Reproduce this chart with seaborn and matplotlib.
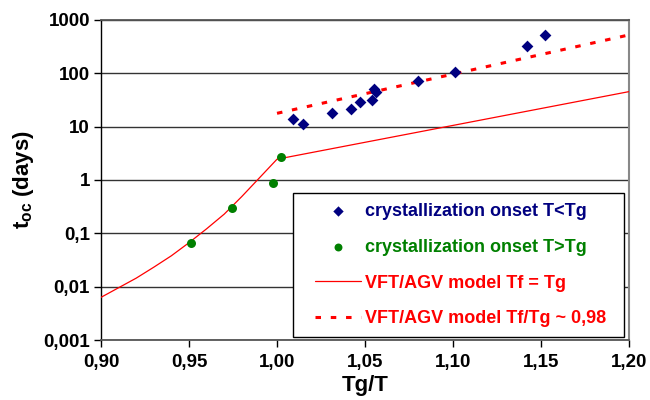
import matplotlib
matplotlib.use("Agg")
import matplotlib.pyplot as plt
import seaborn as sns
from matplotlib.patches import Rectangle
from matplotlib.ticker import FixedLocator, FixedFormatter, NullLocator

# ---------------- data ----------------
below_tg_x = [1.009, 1.015, 1.031, 1.042, 1.047, 1.054, 1.0553, 1.0561, 1.080, 1.101, 1.142, 1.152]
below_tg_y = [13.9, 11.2, 17.8, 21.5, 29.0, 32.0, 50.0, 45.0, 71.0, 106.0, 331.0, 525.0]

above_tg_x = [0.951, 0.9745, 0.998, 1.0025]
above_tg_y = [0.065, 0.30, 0.89, 2.75]

vft_x = [0.900, 0.910, 0.920, 0.930, 0.940, 0.950, 0.960, 0.970, 0.980, 0.990, 1.000, 1.200]
vft_y = [0.00631, 0.00955, 0.01445, 0.0232, 0.0380, 0.0668, 0.1216, 0.229, 0.490, 1.096, 2.455, 45.4]

vft098_x = [1.000, 1.200]
vft098_y = [17.8, 525.0]

labels = ["crystallization onset T<Tg", "crystallization onset T>Tg",
          "VFT/AGV model Tf = Tg", "VFT/AGV model Tf/Tg ~ 0,98"]

x_ticks = [0.90, 0.95, 1.00, 1.05, 1.10, 1.15, 1.20]
x_tick_labels = ["0,90", "0,95", "1,00", "1,05", "1,10", "1,15", "1,20"]
y_ticks = [0.001, 0.01, 0.1, 1, 10, 100, 1000]
y_tick_labels = ["0,001", "0,01", "0,1", "1", "10", "100", "1000"]

# ---------------- style ----------------
sns.set_theme(style="white")
plt.rcParams['font.family'] = ['Liberation Sans', 'DejaVu Sans']
plt.rcParams['font.weight'] = 'bold'
plt.rcParams['mathtext.fontset'] = 'custom'
plt.rcParams['mathtext.rm'] = 'Liberation Sans:bold'
plt.rcParams['mathtext.it'] = 'Liberation Sans:bold'
plt.rcParams['mathtext.bf'] = 'Liberation Sans:bold'
plt.rcParams['mathtext.default'] = 'bf'

NAVY = '#000080'
GREEN = '#008000'
RED = '#FF0000'

fig = plt.figure(figsize=(6.5, 4), dpi=100)
ax = fig.add_axes([0.1554, 0.15, 0.8123, 0.80])
ax.set_yscale('log')

sns.scatterplot(x=below_tg_x, y=below_tg_y, ax=ax, marker='D', s=36, color=NAVY,
                edgecolor=NAVY, linewidth=0, label=labels[0], zorder=4)
sns.scatterplot(x=above_tg_x, y=above_tg_y, ax=ax, marker='o', s=42, color=GREEN,
                edgecolor=GREEN, linewidth=0, label=labels[1], zorder=4)
sns.lineplot(x=vft_x, y=vft_y, ax=ax, color=RED, linewidth=0.9, label=labels[2],
             estimator=None, sort=False, zorder=3)
sns.lineplot(x=vft098_x, y=vft098_y, ax=ax, color=RED, linewidth=2.2,
             linestyle=(0, (1.8, 3.2)), label=labels[3], estimator=None, sort=False, zorder=3)

ax.set_xlim(0.90, 1.20)
ax.set_ylim(0.001, 1000)

ax.xaxis.set_major_locator(FixedLocator(x_ticks))
ax.xaxis.set_major_formatter(FixedFormatter(x_tick_labels))
ax.yaxis.set_major_locator(FixedLocator(y_ticks))
ax.yaxis.set_major_formatter(FixedFormatter(y_tick_labels))
ax.yaxis.set_minor_locator(NullLocator())
ax.xaxis.set_minor_locator(NullLocator())

ax.yaxis.grid(True, color='#333333', linewidth=1.0)
ax.xaxis.grid(False)
ax.set_axisbelow(True)

ax.tick_params(axis='both', which='major', direction='out', length=5, width=1,
               color='black', left=True, bottom=True, labelsize=13.5)
ax.tick_params(axis='x', pad=5)
ax.tick_params(axis='y', pad=3)
for lab in ax.get_xticklabels() + ax.get_yticklabels():
    lab.set_fontweight('bold')
    lab.set_color('black')

ax.spines['left'].set_color('black')
ax.spines['left'].set_linewidth(1.0)
ax.spines['bottom'].set_color('#555555')
ax.spines['bottom'].set_linewidth(1.3)
ax.spines['top'].set_color('#555555')
ax.spines['top'].set_linewidth(1.3)
ax.spines['right'].set_color('#888888')
ax.spines['right'].set_linewidth(1.5)

ax.set_xlabel("Tg/T", fontsize=16, fontweight='bold', color='black', labelpad=3)
ax.set_ylabel("t$_{oc}$ (days)", fontsize=16, fontweight='bold', color='black', labelpad=5)

# legend box (white, black edge) drawn behind the legend entries
box = Rectangle((0.3636, 0.0094), 0.6269, 0.45, transform=ax.transAxes,
                facecolor='white', edgecolor='black', linewidth=1.0, zorder=4.5)
ax.add_patch(box)

leg = ax.legend(loc='lower left', bbox_to_anchor=(0.3873, 0.0094), borderaxespad=0,
                fontsize=13, handlelength=2.55, handletextpad=0.22, labelspacing=1.04,
                borderpad=0.53, markerscale=0.88, frameon=False)
leg.set_zorder(5)
for txt, col in zip(leg.get_texts(), [NAVY, GREEN, RED, RED]):
    txt.set_color(col)
    txt.set_fontweight('bold')

fig.savefig("out.png", dpi=100)
